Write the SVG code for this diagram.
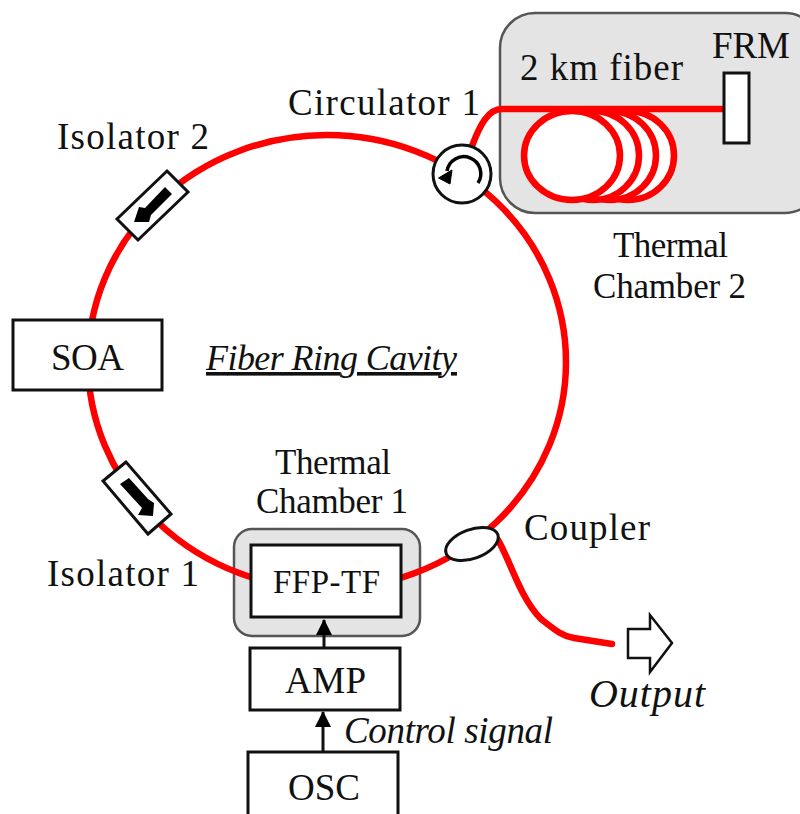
<svg xmlns="http://www.w3.org/2000/svg" width="800" height="814" viewBox="0 0 800 814">
<style>
text{font-family:"Liberation Serif","Times New Roman",serif;font-size:37px;fill:#111}
.it{font-style:italic}
.fib{fill:none;stroke:#f00;stroke-width:6.500;stroke-linecap:round}
.coil{fill:#fff;stroke:#f00;stroke-width:6.500}
.box{fill:#fff;stroke:#111;stroke-width:3}
.ch{fill:#e4e4e4;stroke:#555;stroke-width:2.5}
.sig{fill:none;stroke:#111;stroke-width:3}
</style>
<defs>
<marker id="ah" markerUnits="userSpaceOnUse" markerWidth="16" markerHeight="16" refX="15" refY="8" orient="auto"><path d="M0 0L16 8L0 16Z" fill="#000"/></marker>
</defs>
<rect width="800" height="814" fill="#fff"/>
<g id="chamber2"><rect class="ch" x="500" y="13" width="320" height="200" rx="35"/></g>
<g id="chamber1"><rect class="ch" x="234" y="529" width="186" height="107" rx="18"/></g>
<g id="connectors">
<ellipse class="fib" cx="327" cy="362" rx="239" ry="227"/>
<ellipse class="coil" cx="628" cy="155.500" rx="46" ry="44.500"/>
<ellipse class="coil" cx="610" cy="155.500" rx="46" ry="44.500"/>
<ellipse class="coil" cx="593" cy="155.500" rx="46" ry="44.500"/>
<ellipse class="coil" cx="572" cy="155.500" rx="48" ry="44.500"/>
<path class="fib" d="M472 146C480 125 488 109 502 109L724 109"/>
<path class="fib" d="M498 540C510 560 520 598 541 619C555 630 562 636 574 638L612 644"/>
<path class="sig" d="M324 648V620" marker-end="url(#ah)"/>
<path class="sig" d="M323 752V712" marker-end="url(#ah)"/>
</g>
<g id="ffp-tf"><rect class="box" x="251" y="545" width="150" height="72"/><text x="273" y="593" textLength="107" style="font-size:33px">FFP-TF</text></g>
<g id="amp"><rect class="box" x="250" y="648" width="150" height="62"/><text x="285" y="693" textLength="81">AMP</text></g>
<g id="osc"><rect class="box" x="248" y="752" width="150" height="70"/><text x="288" y="800" textLength="72">OSC</text></g>
<g id="soa"><rect class="box" x="13" y="320" width="149" height="70"/><text x="51" y="370" textLength="73">SOA</text></g>
<g id="frm"><rect class="box" x="724" y="73" width="25" height="70"/><text x="712" y="58" textLength="78">FRM</text></g>
<g id="circulator1">
<circle class="box" cx="462" cy="174" r="29"/>
<path d="M478 183A17 17 0 1 0 447 171" fill="none" stroke="#000" stroke-width="3.500"/>
<path d="M438.500 178L452 170L450 184Z" fill="#000" stroke="#000"/>
<text x="288" y="115" textLength="192">Circulator 1</text>
</g>
<g id="isolator2">
<polygon class="box" points="167,171 188,192 138,240 117,219"/>
<polygon points="165,187 172,194 151,215 149,222 134,222 139,207 145,208" fill="#000"/>
<text x="57" y="149" textLength="152">Isolator 2</text>
</g>
<g id="isolator1">
<polygon class="box" points="126,462 103,481 148,534 171,514"/>
<polygon points="120,484 129,478 148,499 154,503 153,516 138,515 142,508" fill="#000"/>
<text x="47" y="586" textLength="152">Isolator 1</text>
</g>
<g id="coupler"><ellipse cx="472" cy="544" rx="27.500" ry="14.500" transform="rotate(-20 472 544)" fill="#fff" stroke="#111" stroke-width="3"/><text x="524" y="540" textLength="126">Coupler</text></g>
<g id="output"><polygon points="628,629 650,629 650,615 672,643 650,672 650,658 628,658" fill="#fff" stroke="#111" stroke-width="2.500"/><text class="it" x="589" y="707" textLength="116" style="font-size:40px">Output</text></g>
<text x="520" y="80" textLength="163">2 km fiber</text>
<text x="613" y="257" textLength="115" style="font-size:35px">Thermal</text>
<text x="593" y="298" textLength="153" style="font-size:35px">Chamber 2</text>
<text x="275" y="474" textLength="116" style="font-size:35px">Thermal</text>
<text x="256" y="513" textLength="152" style="font-size:35px">Chamber 1</text>
<text class="it" x="206" y="370" textLength="251" text-decoration="underline" style="font-size:36px">Fiber Ring Cavity</text>
<text class="it" x="344" y="743" textLength="209" style="font-size:37px">Control signal</text>
</svg>
